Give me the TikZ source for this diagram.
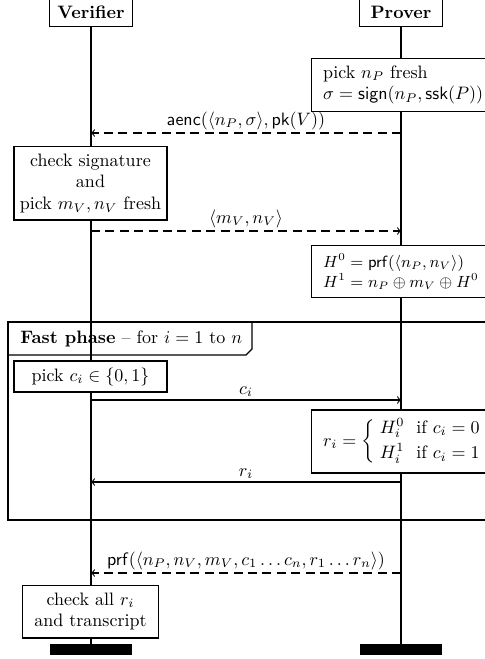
\documentclass[tikz,border=0pt]{standalone}
\usepackage{amsmath}
\usepackage{tikz}
\begin{document}
\begin{tikzpicture}[x=0.5556pt,y=-0.5556pt,>=to,
    box/.style={draw,fill=white,semithick,align=center,inner sep=2pt},
    head/.style={box,font=\bfseries,minimum width=46pt,minimum height=16pt},
    pstate/.style={box,anchor=west,align=left,inner xsep=6.5pt},
    bar/.style={fill=black,minimum width=46pt,minimum height=6pt,inner sep=0pt},
    msg/.style={->,semithick},
    dmsg/.style={msg,dash pattern=on 5pt off 3pt},
    lbl/.style={above,inner sep=1.5pt}]
    \useasboundingbox (0,0) rectangle (484,659);

    \node[head] (V) at (91,12) {Verifier};
    \node[head] (P) at (401,12) {Prover};
    \node[bar] (Ve) at (91,649.5) {};
    \node[bar] (Pe) at (401,649.5) {};
    \draw[semithick] (V) -- (Ve);
    \draw[semithick] (P) -- (Pe);

    \node[pstate,minimum height=29pt] (p1) at (311,85) {pick $n_P$ fresh\\ $\sigma = \mathsf{sign}(n_P, \mathsf{ssk}(P))$};
    \coordinate (a1) at (401,133);
    \coordinate (b1) at (91,133);
    \draw[dmsg] (a1) -- node[lbl] {$\mathsf{aenc}(\langle n_P, \sigma\rangle, \mathsf{pk}(V))$} (b1);

    \node[box,minimum width=85pt,minimum height=40.6pt] (v1) at (90.5,183.5) {check signature\\ and\\ pick $m_V, n_V$ fresh};
    \coordinate (b2) at (91,231);
    \coordinate (a2) at (401,231);
    \draw[dmsg] (b2) -- node[lbl] {$\langle m_V, n_V\rangle$} (a2);

    \node[pstate,minimum height=29.4pt,font=\small] (p2) at (311,271.5) {$H^0 = \mathsf{prf}(\langle n_P, n_V\rangle)$\\ $H^1 = n_P \oplus m_V \oplus H^0$};

    \draw[semithick] (8,322) rectangle (500,520);
    \draw[semithick] (8,355) -- (246,355) -- (252,349) -- (252,322);
    \node[anchor=west] (fast) at (14,338.5) {\textbf{Fast phase} -- for $i=1$ to $n$};

    \node[box,minimum width=85pt,minimum height=17.2pt] (v2) at (90.5,376.5) {pick $c_i \in \{0,1\}$};
    \coordinate (b3) at (91,400);
    \coordinate (a3) at (401,400);
    \draw[msg] (b3) -- node[lbl] {$c_i$} (a3);

    \node[pstate,minimum height=35pt] (p3) at (311,441.5) {$r_i = \left\{\begin{array}{@{\;}l@{\ \ }l@{}} H_i^0 & \text{if } c_i = 0\\[2pt] H_i^1 & \text{if } c_i = 1\end{array}\right.$};
    \coordinate (a4) at (401,482);
    \coordinate (b4) at (91,482);
    \draw[msg] (a4) -- node[lbl] {$r_i$} (b4);

    \coordinate (a5) at (401,573);
    \coordinate (b5) at (91,573);
    \draw[dmsg] (a5) -- node[lbl] {$\mathsf{prf}(\langle n_P, n_V, m_V, c_1\ldots c_n, r_1\ldots r_n\rangle)$} (b5);

    \node[box,minimum width=76pt,minimum height=29.4pt] (v3) at (90.5,611.5) {check all $r_i$\\ and transcript};
\end{tikzpicture}
\end{document}
